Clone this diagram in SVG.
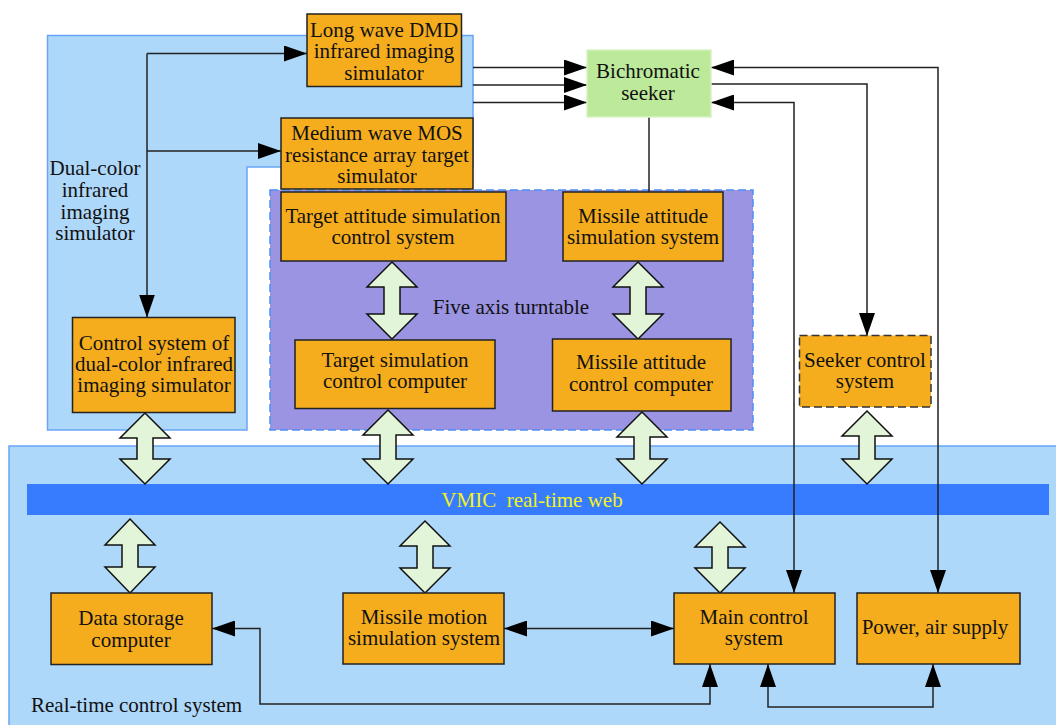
<svg xmlns="http://www.w3.org/2000/svg" width="1056" height="725" viewBox="0 0 1056 725">
<defs>
<style>
text{font-family:"Liberation Serif","Times New Roman",serif;font-size:21px;fill:#111;text-anchor:middle}
.box{fill:#F5AD1D;stroke:#222;stroke-width:1.5}
.ln{fill:none;stroke:#222;stroke-width:1.5}
.dbl{fill:#E2F5D8;stroke:#111;stroke-width:1.5;stroke-linejoin:miter}
.left{text-anchor:start}
</style>
<marker id="ah" markerUnits="userSpaceOnUse" markerWidth="24" markerHeight="16" refX="23" refY="8" orient="auto-start-reverse" viewBox="0 0 24 16">
<path d="M0,0 L23,8 L0,16 z" fill="#000"/>
</marker>
</defs>
<rect width="1056" height="725" fill="#fff"/>

<g id="region-dual">
<polygon points="47.5,35.5 473,35.5 473,167 247,167 247,430 47.5,430" fill="#AED8FA" stroke="#6AA5F5" stroke-width="1.5"/>
<text x="95" y="175">Dual-color</text>
<text x="95" y="197">infrared</text>
<text x="95" y="219">imaging</text>
<text x="95" y="240">simulator</text>
</g>
<g id="region-turntable">
<rect x="270" y="190" width="483" height="240" fill="#9A94E3" stroke="#4E8FF5" stroke-width="1.5" stroke-dasharray="8,4"/>
<text x="511" y="314">Five axis turntable</text>
</g>
<g id="region-realtime">
<rect x="9" y="446" width="1060" height="290" fill="#AED8FA" stroke="#6AA5F5" stroke-width="1.5"/>
<text class="left" x="31" y="712">Real-time control system</text>
</g>
<g id="vmic">
<rect x="27" y="484" width="1022" height="31" fill="#377CFF"/>
<text x="532" y="507" fill="#F2F21A" style="fill:#F2F21A;white-space:pre">VMIC  real-time web</text>
</g>

<g id="connectors">
<path class="ln" d="M147,53.5 H307" marker-end="url(#ah)"/>
<path class="ln" d="M147,151 H281" marker-end="url(#ah)"/>
<path class="ln" d="M147,53.5 V317.5" marker-end="url(#ah)"/>
<path class="ln" d="M473,67.5 H587" marker-end="url(#ah)"/>
<path class="ln" d="M473,85 H587" marker-end="url(#ah)"/>
<path class="ln" d="M473,102.5 H587" marker-end="url(#ah)"/>
<path class="ln" d="M649,117 V192"/>
<path class="ln" d="M711,67.5 H938 V593" marker-start="url(#ah)" marker-end="url(#ah)"/>
<path class="ln" d="M711,84 H867 V336" marker-end="url(#ah)"/>
<path class="ln" d="M711,102.5 H794 V593" marker-start="url(#ah)" marker-end="url(#ah)"/>
<path class="ln" d="M504,628.5 H674" marker-start="url(#ah)" marker-end="url(#ah)"/>
<path class="ln" d="M212,628.5 H260 V704 H710 V664" marker-start="url(#ah)" marker-end="url(#ah)"/>
<path class="ln" d="M768,664 V707 H933 V664" marker-start="url(#ah)" marker-end="url(#ah)"/>
<polygon class="dbl" points="392,262 417,287 400,287 400,314 417,314 392,339 367,314 384,314 384,287 367,287"/>
<polygon class="dbl" points="638,262 663,287 646,287 646,314 663,314 638,339 613,314 630,314 630,287 613,287"/>
<polygon class="dbl" points="145,413 170,438 153,438 153,459 170,459 145,484 120,459 137,459 137,438 120,438"/>
<polygon class="dbl" points="388,410 413,435 396,435 396,459 413,459 388,484 363,459 380,459 380,435 363,435"/>
<polygon class="dbl" points="642,412 667,437 650,437 650,459 667,459 642,484 617,459 634,459 634,437 617,437"/>
<polygon class="dbl" points="867,411 892,436 875,436 875,459 892,459 867,484 842,459 859,459 859,436 842,436"/>
<polygon class="dbl" points="130,519 155,545 138,545 138,567 155,567 130,593 105,567 122,567 122,545 105,545"/>
<polygon class="dbl" points="425,521 450,546 433,546 433,568 450,568 425,593 400,568 417,568 417,546 400,546"/>
<polygon class="dbl" points="720,522 745,547 728,547 728,568 745,568 720,593 695,568 712,568 712,547 695,547"/>
</g>

<g id="long-wave">
<rect class="box" x="307" y="14" width="154.5" height="72.5"/>
<text x="384" y="36.5">Long wave DMD</text>
<text x="384" y="58">infrared imaging</text>
<text x="384" y="79.5">simulator</text>
</g>
<g id="medium-wave">
<rect class="box" x="281" y="118" width="192" height="71"/>
<text x="377" y="139.5">Medium wave MOS</text>
<text x="377" y="162">resistance array target</text>
<text x="377" y="182.5">simulator</text>
</g>
<g id="seeker">
<rect x="587" y="50" width="124" height="67" fill="#BDE99A" stroke="#D8F2C4" stroke-width="1.5"/>
<text x="648" y="77.5">Bichromatic</text>
<text x="648" y="99.5">seeker</text>
</g>
<g id="target-attitude">
<rect class="box" x="281" y="192" width="225" height="69"/>
<text x="393" y="223">Target attitude simulation</text>
<text x="393" y="244">control system</text>
</g>
<g id="missile-attitude">
<rect class="box" x="563" y="192" width="160" height="69"/>
<text x="643" y="223">Missile attitude</text>
<text x="643" y="244">simulation system</text>
</g>
<g id="control-dual">
<rect class="box" x="72.5" y="317.5" width="162.5" height="95"/>
<text x="154" y="349.5">Control system of</text>
<text x="154" y="371">dual-color infrared</text>
<text x="154" y="392">imaging simulator</text>
</g>
<g id="target-sim-computer">
<rect class="box" x="295" y="340" width="200" height="68.5"/>
<text x="395" y="367">Target simulation</text>
<text x="395" y="388">control computer</text>
</g>
<g id="missile-attitude-computer">
<rect class="box" x="552.5" y="339" width="178.5" height="72"/>
<text x="641" y="369">Missile attitude</text>
<text x="641" y="391">control computer</text>
</g>
<g id="seeker-control">
<rect x="799.5" y="335.5" width="131.5" height="71.5" fill="#F5AD1D" stroke="#333" stroke-width="1.5" stroke-dasharray="8,4"/>
<text x="865" y="367">Seeker control</text>
<text x="865" y="388">system</text>
</g>
<g id="data-storage">
<rect class="box" x="51" y="593" width="161" height="71.5"/>
<text x="131" y="625">Data storage</text>
<text x="131" y="646.5">computer</text>
</g>
<g id="missile-motion">
<rect class="box" x="343" y="593" width="161" height="71"/>
<text x="424" y="623.5">Missile motion</text>
<text x="424" y="644.5">simulation system</text>
</g>
<g id="main-control">
<rect class="box" x="674" y="593" width="161" height="71"/>
<text x="754" y="623.5">Main control</text>
<text x="754" y="645">system</text>
</g>
<g id="power">
<rect class="box" x="857" y="593" width="163" height="71"/>
<text x="935" y="633.5">Power, air supply</text>
</g>
</svg>
